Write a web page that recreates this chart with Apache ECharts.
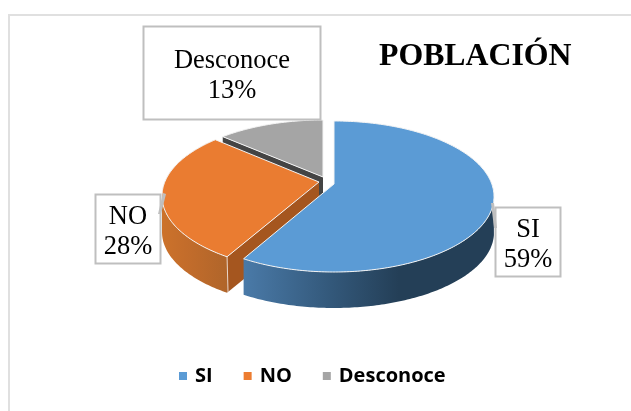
<!DOCTYPE html>
<html>
<head>
<meta charset="utf-8">
<style>html,body{margin:0;padding:0;background:#fff}#c{width:631px;height:411px}</style>
<script src="https://cdn.jsdelivr.net/npm/echarts@6/dist/echarts.min.js"></script>
</head>
<body>
<div id="c"></div>
<script>
const categories = ['SI', 'NO', 'Desconoce'];
const values = [59, 28, 13];
const titleText = 'POBLACIÓN';

const colors = ['#5b9bd5', '#ea7c31', '#a5a5a5'];
const legendColors = ['#5b9bd5', '#ed7d31', '#a5a5a5'];
const RX = 160, RY = 75.5, DEPTH = 36;
const slices = [
  {cx: 334, cy: 196.5, ax: 334, ay: 184, startNudge: 0, endNudge: 2, z: 3},
  {cx: 322, cy: 196, ax: 319, ay: 182, startNudge: 4, endNudge: 5, z: 2},
  {cx: 323, cy: 195.5, ax: 323, ay: 177, startNudge: 8, endNudge: 0, z: 1}
];
const boxes = [
  {x: 495.5, y: 207.5, w: 65, h: 69, tip: [[491, 203], [494, 203], [497, 228], [494, 228]]},
  {x: 95.5, y: 194.5, w: 65, h: 69, tip: [[163, 193], [166, 194], [161, 214], [158, 214]]},
  {x: 143.5, y: 26.5, w: 177, h: 93, tip: null}
];

const total = values.reduce((a, b) => a + b, 0);
function bounds(i) {
  let before = 0;
  for (let k = 0; k < i; k++) before += values[k];
  return [before / total * 360 + slices[i].startNudge, (before + values[i]) / total * 360 + slices[i].endNudge];
}
function pt(s, deg, drop) {
  const r = deg * Math.PI / 180;
  return [s.cx + RX * Math.sin(r), s.cy - RY * Math.cos(r) + (drop || 0)];
}
function arc(s, a, b, drop) {
  const out = [], n = Math.max(2, Math.ceil(Math.abs(b - a)));
  for (let i = 0; i <= n; i++) out.push(pt(s, a + (b - a) * i / n, drop));
  return out;
}
const grad = (stops) => new echarts.graphic.LinearGradient(0, 0, 1, 0,
  stops.map(([offset, color]) => ({offset, color})));

function renderSlice(i) {
  return function () {
    const s = slices[i], [a, b] = bounds(i), kids = [];
    const wallStroke = {stroke: 'rgba(255,255,255,0.75)', lineWidth: 1};
    if (i === 0) {
      const top = arc(s, 92, b, 0);
      kids.push({type: 'polygon', shape: {points: top.concat(arc(s, b, 92, DEPTH))},
        style: {fill: grad([[0, '#4a7aa8'], [0.35, '#33587a'], [0.62, '#243f57'], [1, '#243f57']])}});
    }
    if (i === 1) {
      const e = pt(s, a), f = pt(s, a, DEPTH);
      kids.push({type: 'polygon', shape: {points: [[s.ax, s.ay], e, f, [s.ax, s.ay + DEPTH]]},
        style: {fill: '#a5561f'}});
      kids.push({type: 'polygon', shape: {points: arc(s, a, 270, 0).concat(arc(s, 270, a, DEPTH))},
        style: {fill: grad([[0, '#cc722b'], [0.4, '#c26c2b'], [1, '#b0652a']])}});
      kids.push({type: 'line', shape: {x1: e[0], y1: e[1], x2: f[0] + 1, y2: f[1]}, style: wallStroke});
    }
    if (i === 2) {
      const e = pt(s, a);
      kids.push({type: 'polygon', shape: {points: [[s.ax, s.ay], e, [e[0], e[1] + DEPTH], [s.ax, s.ay + DEPTH]]},
        style: {fill: '#444444'}});
    }
    kids.push({type: 'polygon', shape: {points: [[s.ax, s.ay]].concat(arc(s, a, b, 0))},
      style: {fill: colors[i], stroke: '#f4f4f4', lineWidth: 1}});
    return {type: 'group', children: kids};
  };
}
function renderLabel(i) {
  return function () {
    const box = boxes[i], kids = [];
    kids.push({type: 'rect', shape: {x: box.x, y: box.y, width: box.w, height: box.h},
      style: {fill: '#ffffff', stroke: '#bfbfbf', lineWidth: 2}});
    if (box.tip) kids.push({type: 'polygon', shape: {points: box.tip}, style: {fill: '#bfbfbf'}});
    kids.push({type: 'text', style: {
      x: box.x + box.w / 2, y: box.y + box.h / 2 + 3,
      text: categories[i] + '\n' + Math.round(values[i] / total * 100) + '%',
      align: 'center', verticalAlign: 'middle',
      font: '26.5px "Liberation Serif"', lineHeight: 30, fill: '#000'
    }});
    return {type: 'group', children: kids};
  };
}

const series = categories.map((name, i) => ({
  type: 'custom', name, coordinateSystem: 'none', z: slices[i].z,
  silent: true, animation: false,
  itemStyle: {color: legendColors[i]},
  data: [[values[i]]],
  renderItem: renderSlice(i)
}));
categories.forEach((name, i) => series.push({
  type: 'custom', name: name + ' label', coordinateSystem: 'none', z: i === 2 ? 5 : 6,
  silent: true, animation: false, data: [[values[i]]],
  renderItem: renderLabel(i)
}));

const chart = echarts.init(document.getElementById('c'), null, {renderer: 'canvas'});
chart.setOption({
  animation: false,
  backgroundColor: '#fff',
  title: {text: titleText, left: 379, top: 41, padding: 0,
    textStyle: {fontFamily: '"Liberation Serif"', fontWeight: 'bold', fontSize: 31.8, color: '#000'}},
  legend: {
    data: categories, left: 179, top: 366, padding: 0, icon: 'rect', itemWidth: 8, itemHeight: 8, itemGap: 31,
    selectedMode: false,
    textStyle: {fontFamily: '"Open Sans"', fontWeight: 'bold', fontSize: 20, color: '#000', padding: [0, 0, 0, 3]}
  },
  graphic: [
    {type: 'polyline', silent: true, z: 0, shape: {points: [[9, 411], [9, 15], [631, 15]]},
      style: {stroke: '#e0e0e0', lineWidth: 2, fill: 'none'}}
  ],
  series
});
</script>
</body>
</html>
